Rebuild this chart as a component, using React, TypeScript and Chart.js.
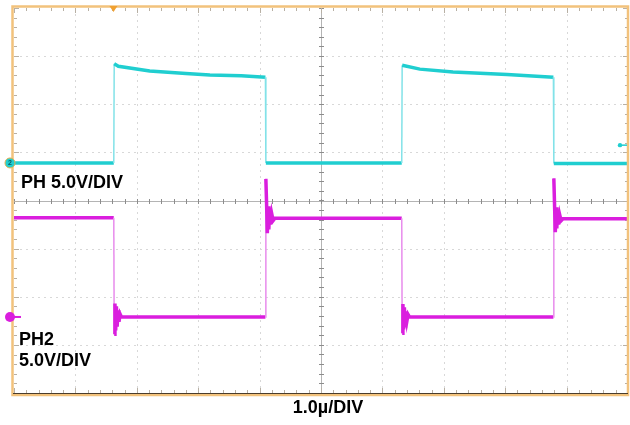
import React, { useEffect, useRef } from "react";
import { Chart, registerables } from "chart.js";

Chart.register(...registerables);

// Time axis in divisions (1.0µ/DIV), 10 divisions
const X_MIN = 0;
const X_MAX = 10;
// Vertical axis in divisions, 8 divisions
const Y_MIN = -4;
const Y_MAX = 4;

// PH trace (cyan)
const phTime = [0, 1.625, 1.632, 1.7, 2.21, 2.8, 3.19, 3.7, 4.095, 4.102, 6.315, 6.322, 6.61, 7.15, 8.03, 8.785, 8.792, 10];
const phVolts = [0.78, 0.78, 2.84, 2.79, 2.69, 2.64, 2.61, 2.59, 2.56, 0.78, 0.78, 2.81, 2.73, 2.67, 2.62, 2.56, 0.77, 0.77];

// PH2 trace (magenta)
const ph2Time = [
  0, 1.625, 1.632, 1.644, 1.656, 1.668, 1.68, 1.694, 1.71, 1.728, 1.75, 4.095,
  4.102, 4.114, 4.126, 4.138, 4.15, 4.164, 4.18, 4.198, 4.22, 4.25, 6.315,
  6.322, 6.334, 6.346, 6.358, 6.37, 6.384, 6.4, 6.418, 6.44, 8.785,
  8.792, 8.804, 8.816, 8.828, 8.84, 8.854, 8.87, 8.888, 8.91, 8.94, 10,
];
const ph2Volts = [
  -0.36, -0.36, -2.78, -2.14, -2.7, -2.2, -2.62, -2.28, -2.52, -2.36, -2.42, -2.42,
  0.45, -0.08, -0.68, -0.12, -0.6, -0.2, -0.5, -0.28, -0.42, -0.37, -0.37,
  -2.76, -2.15, -2.68, -2.22, -2.6, -2.3, -2.5, -2.37, -2.42, -2.42,
  0.46, -0.1, -0.66, -0.14, -0.58, -0.22, -0.5, -0.3, -0.42, -0.38, -0.38,
];

const chLabel1 = "PH 5.0V/DIV";
const chLabel2a = "PH2";
const chLabel2b = "5.0V/DIV";
const timeLabel = "1.0µ/DIV";

const ref1Level = 0.78;
const ref2Level = -2.42;
const trigTime = 1.62;
const rightMarkerLevel = 1.15;

const CYAN = "rgb(32,206,208)";
const CYAN_EDGE = "rgb(130,226,232)";
const MAG = "rgb(218,30,222)";
const MAG_EDGE = "rgb(232,140,236)";

const toPts = (xs: number[], ys: number[]) => xs.map((x, i) => ({ x, y: ys[i] }));

const isEdge = (ctx: any) =>
  Math.abs(ctx.p1.parsed.x - ctx.p0.parsed.x) < 0.01 && Math.abs(ctx.p1.parsed.y - ctx.p0.parsed.y) > 1;

const scopePlugin = {
  id: "scope",
  beforeDatasetsDraw(chart: any) {
    const { ctx, chartArea: a, scales } = chart;
    const xs = scales.x;
    const ys = scales.y;
    ctx.save();
    // dotted grid
    ctx.strokeStyle = "#d8d8d8";
    ctx.lineWidth = 1;
    ctx.setLineDash([2, 4]);
    for (let i = X_MIN + 1; i < X_MAX; i++) {
      if (i === 5) continue;
      const px = Math.round(xs.getPixelForValue(i)) + 0.5;
      ctx.beginPath();
      ctx.moveTo(px, a.top);
      ctx.lineTo(px, a.bottom);
      ctx.stroke();
    }
    for (let j = Y_MIN + 1; j < Y_MAX; j++) {
      if (j === 0) continue;
      const py = Math.round(ys.getPixelForValue(j)) + 0.5;
      ctx.beginPath();
      ctx.moveTo(a.left, py);
      ctx.lineTo(a.right, py);
      ctx.stroke();
    }
    ctx.setLineDash([]);
    // center cross
    const cx = Math.round(xs.getPixelForValue(5)) + 0.5;
    const cy = Math.round(ys.getPixelForValue(0)) + 0.5;
    ctx.strokeStyle = "#b4b4b4";
    ctx.beginPath();
    ctx.moveTo(cx, a.top);
    ctx.lineTo(cx, a.bottom);
    ctx.moveTo(a.left, cy);
    ctx.lineTo(a.right, cy);
    ctx.stroke();
    ctx.strokeStyle = "#8c8c8c";
    ctx.beginPath();
    for (let v = X_MIN; v <= X_MAX + 1e-6; v += 0.2) {
      const px = Math.round(xs.getPixelForValue(v)) + 0.5;
      ctx.moveTo(px, cy - 2.5);
      ctx.lineTo(px, cy + 2.5);
    }
    for (let v = Y_MIN; v <= Y_MAX + 1e-6; v += 0.2) {
      const py = Math.round(ys.getPixelForValue(v)) + 0.5;
      ctx.moveTo(cx - 2.5, py);
      ctx.lineTo(cx + 2.5, py);
    }
    ctx.stroke();
    // border ticks
    ctx.strokeStyle = "#b8b0a4";
    ctx.beginPath();
    for (let k = 0; k <= 50; k++) {
      const v = X_MIN + k * 0.2;
      const px = Math.round(xs.getPixelForValue(v)) + 0.5;
      const len = k % 5 === 0 ? 5 : 3;
      ctx.moveTo(px, a.top);
      ctx.lineTo(px, a.top + len);
      ctx.moveTo(px, a.bottom);
      ctx.lineTo(px, a.bottom - len);
    }
    for (let k = 0; k <= 40; k++) {
      const v = Y_MIN + k * 0.2;
      const py = Math.round(ys.getPixelForValue(v)) + 0.5;
      const len = k % 5 === 0 ? 5 : 3;
      ctx.moveTo(a.left, py);
      ctx.lineTo(a.left + len, py);
      ctx.moveTo(a.right, py);
      ctx.lineTo(a.right - len, py);
    }
    ctx.stroke();
    ctx.restore();
  },
  afterDatasetsDraw(chart: any) {
    const { ctx, chartArea: a, scales } = chart;
    const xs = scales.x;
    const ys = scales.y;
    ctx.save();
    // orange frame
    ctx.strokeStyle = "#f2c27c";
    ctx.lineWidth = 2.5;
    ctx.strokeRect(a.left - 1.5, a.top - 1.5, a.right - a.left + 1.5, a.bottom - a.top + 3.5);
    ctx.strokeStyle = "#4a3c2c";
    ctx.lineWidth = 1.2;
    ctx.beginPath();
    ctx.moveTo(a.left - 1, a.bottom + 0.5);
    ctx.lineTo(a.right, a.bottom + 0.5);
    ctx.stroke();

    // trigger marker
    const tx = xs.getPixelForValue(trigTime);
    ctx.fillStyle = "#f0a030";
    ctx.beginPath();
    ctx.moveTo(tx - 4, a.top - 2);
    ctx.lineTo(tx + 4, a.top - 2);
    ctx.lineTo(tx, a.top + 4);
    ctx.closePath();
    ctx.fill();

    // channel reference markers
    const r1 = ys.getPixelForValue(ref1Level);
    ctx.fillStyle = CYAN;
    ctx.beginPath();
    ctx.arc(a.left - 4, r1, 5, 0, Math.PI * 2);
    ctx.fill();
    ctx.strokeStyle = "#e6b050";
    ctx.lineWidth = 1;
    ctx.stroke();
    ctx.fillStyle = "#0b5c60";
    ctx.font = "bold 7px 'Liberation Sans', Arial, sans-serif";
    ctx.textAlign = "center";
    ctx.textBaseline = "middle";
    ctx.fillText("2", a.left - 4, r1 + 0.5);

    const r2 = ys.getPixelForValue(ref2Level);
    ctx.fillStyle = MAG;
    ctx.beginPath();
    ctx.arc(a.left - 4, r2, 5, 0, Math.PI * 2);
    ctx.fill();
    ctx.strokeStyle = MAG;
    ctx.lineWidth = 2;
    ctx.beginPath();
    ctx.moveTo(a.left, r2);
    ctx.lineTo(a.left + 7, r2);
    ctx.stroke();

    // right side small marker
    const rm = ys.getPixelForValue(rightMarkerLevel);
    ctx.fillStyle = CYAN;
    ctx.beginPath();
    ctx.arc(a.right - 8, rm, 2.2, 0, Math.PI * 2);
    ctx.fill();
    ctx.strokeStyle = CYAN;
    ctx.lineWidth = 1.5;
    ctx.beginPath();
    ctx.moveTo(a.right - 6, rm);
    ctx.lineTo(a.right - 1, rm);
    ctx.stroke();

    // labels
    ctx.fillStyle = "#000";
    ctx.textAlign = "left";
    ctx.textBaseline = "alphabetic";
    ctx.font = "bold 18px 'Liberation Sans', Arial, sans-serif";
    ctx.fillText(chLabel1, a.left + 7, 188);
    ctx.fillText(chLabel2a, a.left + 5, 345);
    ctx.fillText(chLabel2b, a.left + 5, 366);
    ctx.textAlign = "center";
    ctx.fillText(timeLabel, 328, 413);
    ctx.restore();
  },
};

export default function App() {
  const ref = useRef<HTMLCanvasElement | null>(null);
  useEffect(() => {
    if (!ref.current) return;
    const chart = new Chart(ref.current, {
      type: "line",
      data: {
        datasets: [
          {
            label: "PH",
            data: toPts(phTime, phVolts),
            borderColor: CYAN,
            borderWidth: 3.5,
            pointRadius: 0,
            tension: 0,
            segment: {
              borderColor: (c: any) => (isEdge(c) ? CYAN_EDGE : CYAN),
              borderWidth: (c: any) => (isEdge(c) ? 1.5 : 3.5),
            },
          } as any,
          {
            label: "PH2",
            data: toPts(ph2Time, ph2Volts),
            borderColor: MAG,
            borderWidth: 3.5,
            pointRadius: 0,
            tension: 0,
            segment: {
              borderColor: (c: any) => (isEdge(c) ? MAG_EDGE : MAG),
              borderWidth: (c: any) => (isEdge(c) ? 1.5 : 3.5),
            },
          } as any,
        ],
      },
      options: {
        responsive: false,
        animation: false,
        devicePixelRatio: 1,
        layout: { padding: { left: 14, top: 8, right: 2, bottom: 32 } },
        scales: {
          x: { type: "linear", min: X_MIN, max: X_MAX, display: false },
          y: { type: "linear", min: Y_MIN, max: Y_MAX, display: false },
        },
        plugins: {
          legend: { display: false },
          tooltip: { enabled: false },
        },
      },
      plugins: [scopePlugin],
    });
    return () => chart.destroy();
  }, []);
  return (
    <div style={{ position: "fixed", left: 0, top: 0, width: 630, height: 425, background: "#fff" }}>
      <canvas ref={ref} width={630} height={425} style={{ display: "block" }} />
    </div>
  );
}
